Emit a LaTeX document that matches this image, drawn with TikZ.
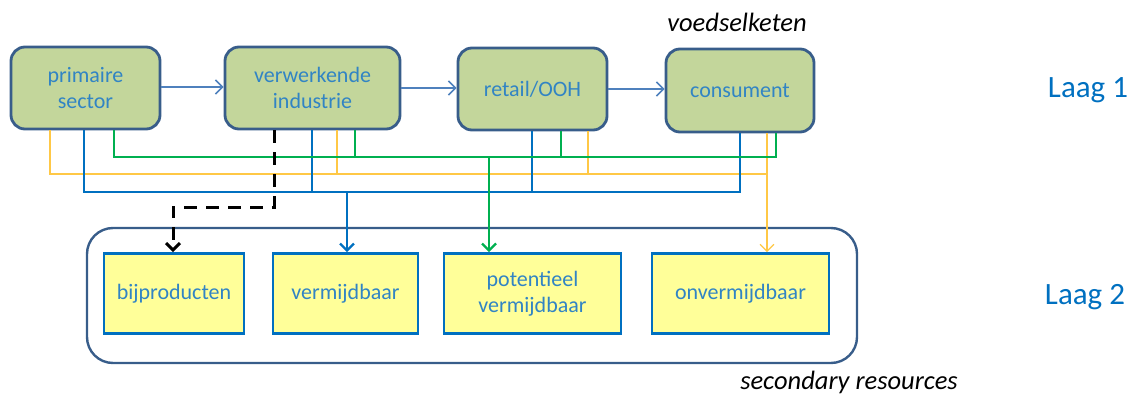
\documentclass[tikz,border=0pt]{standalone}
\usepackage{fontspec}
\setmainfont{Carlito}
\usetikzlibrary{arrows.meta}
\definecolor{boxtext}{RGB}{49,132,196}
\definecolor{gfill}{RGB}{195,214,155}
\definecolor{darkborder}{RGB}{56,93,138}
\definecolor{yfill}{RGB}{255,255,153}
\definecolor{yborder}{RGB}{0,112,192}
\definecolor{busblue}{RGB}{0,112,192}
\definecolor{topblue}{RGB}{79,129,189}
\definecolor{busgreen}{RGB}{0,176,80}
\definecolor{busyellow}{RGB}{255,200,70}
\definecolor{laagblue}{RGB}{0,112,192}
\tikzset{
  gbox/.style={draw=darkborder, line width=2.8pt, fill=gfill, rounded corners=14pt,
    inner sep=0pt, align=center, text=boxtext, font=\fontsize{22}{26}\selectfont},
  ybox/.style={draw=yborder, line width=2.6pt, fill=yfill, inner sep=0pt,
    align=center, text=boxtext, font=\fontsize{22}{26}\selectfont, minimum height=80pt},
  bigbox/.style={draw=darkborder, line width=2.4pt, rounded corners=26pt, inner sep=0pt},
  tip/.style={-{Straight Barb[length=7pt,width=14pt]}},
  toparrow/.style={draw=topblue, line width=1.6pt, tip},
  bl/.style={draw=busblue, line width=1.6pt},
  blarrow/.style={draw=busblue, line width=2.4pt, tip},
  gr/.style={draw=busgreen, line width=1.6pt},
  grarrow/.style={draw=busgreen, line width=2.4pt, tip},
  yl/.style={draw=busyellow, line width=1.3pt},
  ylarrow/.style={draw=busyellow, line width=1.3pt, tip},
  dsh/.style={draw=black, line width=3pt, dash pattern=on 13pt off 9pt, tip},
  ital/.style={font=\fontsize{26.5}{30}\selectfont\itshape, inner sep=0pt},
  laag/.style={font=\fontsize{31}{36}\selectfont, text=laagblue, inner sep=0pt}
}
\begin{document}
\begin{tikzpicture}[x=1pt,y=-1pt]
\useasboundingbox (0,0) rectangle (1141,396);
% big box (layer 2)
\node[bigbox, minimum width=770pt, minimum height=135pt] (sec) at (472,295.5) {};
% top boxes
\node[gbox, minimum width=149pt, minimum height=82pt] (p) at (85.5,88) {primaire\\sector};
\node[gbox, minimum width=175pt, minimum height=82pt] (v) at (312.5,88) {verwerkende\\industrie};
\node[gbox, minimum width=149pt, minimum height=82pt] (r) at (532.5,89) {retail/OOH};
\node[gbox, minimum width=148pt, minimum height=83pt] (c) at (740,90.5) {consument};
% bottom boxes
\node[ybox, minimum width=140pt] (b) at (174,293.5) {bijproducten};
\node[ybox, minimum width=145pt] (vm) at (345.5,293.5) {vermijdbaar};
\node[ybox, minimum width=177pt] (pv) at (532.5,293.5) {potentieel\\vermijdbaar};
\node[ybox, minimum width=177pt] (o) at (740.5,293.5) {onvermijdbaar};
% labels
\node[ital] (vk) at (737,22) {voedselketen};
\node[ital] (sr) at (849,382) {secondary resources};
\node[laag] (l1) at (1088,90) {Laag 1};
\node[laag] (l2) at (1085,297) {Laag 2};
% chain arrows
\draw[toparrow] (p.east |- 0,87) -- (v.west |- 0,87);
\draw[toparrow] (v.east |- 0,88) -- (r.west |- 0,88);
\draw[toparrow] (r.east |- 0,89) -- (c.west |- 0,89);
% junctions
\coordinate (gj) at (489,157);
\coordinate (yj) at (767,174);
\coordinate (bj) at (347,192);
\coordinate (dk) at (173,207);
% yellow bus
\draw[yl] ([xshift=-35.5pt]p.south) |- (yj);
\draw[yl] ([xshift=24.5pt]v.south) |- (yj);
\draw[yl] ([xshift=55.5pt]r.south) |- (yj);
\draw[ylarrow] ([xshift=27pt]c.south) -- (yj |- o.north);
% blue bus
\draw[bl] ([xshift=-1.5pt]p.south) |- (bj);
\draw[bl] ([xshift=-0.5pt]v.south) |- (bj);
\draw[bl] ([xshift=-0.5pt]r.south) |- (bj);
\draw[bl] (c.south) |- (bj);
\draw[blarrow] (bj) -- (bj |- vm.north);
% green bus
\draw[gr] ([xshift=28.5pt]p.south) |- (gj);
\draw[gr] ([xshift=42.5pt]v.south) |- (gj);
\draw[gr] ([xshift=28.5pt]r.south) |- (gj);
\draw[gr] ([xshift=36pt]c.south) |- (gj);
\draw[grarrow] (gj) -- (gj |- pv.north);
% dashed by-products
\draw[dsh] ([xshift=-38.5pt]v.south) |- (dk) -- (dk |- b.north);
\end{tikzpicture}
\end{document}
